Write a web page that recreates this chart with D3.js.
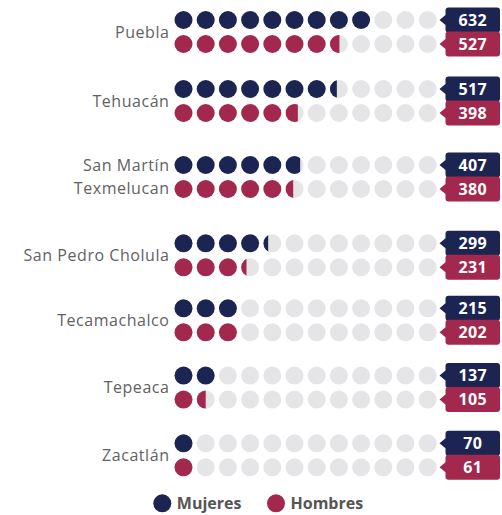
<!DOCTYPE html>
<html lang="es">
<head>
<meta charset="utf-8">
<script src="https://cdn.jsdelivr.net/npm/d3@7"></script>
<style>
  html, body { margin: 0; padding: 0; background: #ffffff; }
  svg { display: block; }
</style>
</head>
<body>
<svg id="chart" width="502" height="515"></svg>
<script>
// Municipios y población por sexo
const municipios = ["Puebla", "Tehuacán", "San Martín Texmelucan", "San Pedro Cholula",
                    "Tecamachalco", "Tepeaca", "Zacatlán"];
const mujeres = [632, 517, 407, 299, 215, 137, 70];
const hombres = [527, 398, 380, 231, 202, 105, 61];
const series = ["Mujeres", "Hombres"];

// Cada punto representa 70 personas; 12 puntos por fila
const unidadPorPunto = 70;
const puntosPorFila = 12;

// Layout
const colores = { Mujeres: "#1c2452", Hombres: "#a2284e" };
const gris = "#e5e5e7";
const radio = 9;
const separacionFilas = 24;
const grupoY = [20, 89, 165, 243.3, 308.3, 375.6, 443.3];   // fila "Mujeres" de cada municipio
const fuente = "'Open Sans', 'Noto Sans', sans-serif";

const svg = d3.select("#chart");
const defs = svg.append("defs");

const x = d3.scalePoint()
  .domain(d3.range(puntosPorFila))
  .range([183.5, 427.7]);

const filas = [];
municipios.forEach((m, i) => {
  filas.push({ municipio: m, serie: "Mujeres", valor: mujeres[i], y: grupoY[i], g: i });
  filas.push({ municipio: m, serie: "Hombres", valor: hombres[i], y: grupoY[i] + separacionFilas, g: i });
});

// Puntos: relleno parcial recortado de izquierda a derecha
let clipId = 0;
filas.forEach(f => {
  const n = f.valor / unidadPorPunto;
  const g = svg.append("g");
  d3.range(puntosPorFila).forEach(k => {
    let frac = Math.max(0, Math.min(1, n - k));
    if (frac < 0.1) frac = 0;            // fracciones mínimas no se dibujan
    if (frac > 0.85) frac = 1;           // casi completos se dibujan llenos
    const cx = x(k);
    if (frac < 1) {
      g.append("circle").attr("cx", cx).attr("cy", f.y).attr("r", radio).attr("fill", gris);
    }
    if (frac === 1) {
      g.append("circle").attr("cx", cx).attr("cy", f.y).attr("r", radio).attr("fill", colores[f.serie]);
    } else if (frac > 0) {
      const id = "clip" + (clipId++);
      defs.append("clipPath").attr("id", id)
        .append("rect")
        .attr("x", cx - radio).attr("y", f.y - radio - 1)
        .attr("width", frac * 2 * radio).attr("height", 2 * radio + 2);
      g.append("circle").attr("cx", cx).attr("cy", f.y).attr("r", radio)
        .attr("fill", colores[f.serie]).attr("clip-path", `url(#${id})`);
    }
  });
});

// Etiquetas de valor
const bx0 = 445.5, bx1 = 500, bh = 25, rr = 3;
filas.forEach(f => {
  const cy = f.y;
  const top = cy - bh / 2, bot = cy + bh / 2;
  const p = d3.path();
  p.moveTo(bx0 + rr, top);
  p.lineTo(bx1 - rr, top);
  p.quadraticCurveTo(bx1, top, bx1, top + rr);
  p.lineTo(bx1, bot - rr);
  p.quadraticCurveTo(bx1, bot, bx1 - rr, bot);
  p.lineTo(bx0 + rr, bot);
  p.quadraticCurveTo(bx0, bot, bx0, bot - rr);
  p.lineTo(bx0, cy + 5);
  p.lineTo(bx0 - 6, cy);
  p.lineTo(bx0, cy - 5);
  p.lineTo(bx0, top + rr);
  p.quadraticCurveTo(bx0, top, bx0 + rr, top);
  p.closePath();
  svg.append("path").attr("d", p.toString()).attr("fill", colores[f.serie]);
  svg.append("text")
    .attr("x", (bx0 + bx1) / 2).attr("y", cy)
    .attr("dy", "0.36em")
    .attr("text-anchor", "middle")
    .attr("font-family", fuente).attr("font-weight", 700).attr("font-size", 16)
    .attr("letter-spacing", 0.3)
    .attr("fill", "#ffffff")
    .text(d3.format("d")(f.valor));
});

// Nombres de municipio (con ajuste de línea)
const anchoMax = 160;
const tamEtiqueta = 16, espaciado = 0.55;
const medidor = svg.append("text")
  .attr("font-family", fuente).attr("font-size", tamEtiqueta)
  .attr("letter-spacing", espaciado).attr("visibility", "hidden");
function ancho(t) { medidor.text(t); return medidor.node().getComputedTextLength(); }
municipios.forEach((m, i) => {
  const palabras = m.split(" ");
  const lineas = [];
  let actual = "";
  palabras.forEach(w => {
    const prueba = actual ? actual + " " + w : w;
    if (ancho(prueba) > anchoMax && actual) { lineas.push(actual); actual = w; }
    else actual = prueba;
  });
  lineas.push(actual);
  const yc = grupoY[i] + separacionFilas / 2;
  const lh = 22.5;
  const t = svg.append("text")
    .attr("text-anchor", "end")
    .attr("font-family", fuente).attr("font-size", tamEtiqueta)
    .attr("letter-spacing", espaciado)
    .attr("fill", "#626262");
  lineas.forEach((l, j) => {
    t.append("tspan")
      .attr("x", 169.5)
      .attr("y", yc + (j - (lineas.length - 1) / 2) * lh)
      .attr("dy", "0.35em")
      .text(l);
  });
});
medidor.remove();

// Leyenda
const leyenda = svg.append("g");
const leyX = [162.3, 276];
series.forEach((s, i) => {
  leyenda.append("circle").attr("cx", leyX[i]).attr("cy", 503.3).attr("r", 9).attr("fill", colores[s]);
  leyenda.append("text")
    .attr("x", leyX[i] + 14.5).attr("y", 503.3).attr("dy", "0.36em")
    .attr("font-family", fuente).attr("font-weight", 700).attr("font-size", 16)
    .attr("fill", "#555555")
    .text(s);
});
</script>
</body>
</html>
